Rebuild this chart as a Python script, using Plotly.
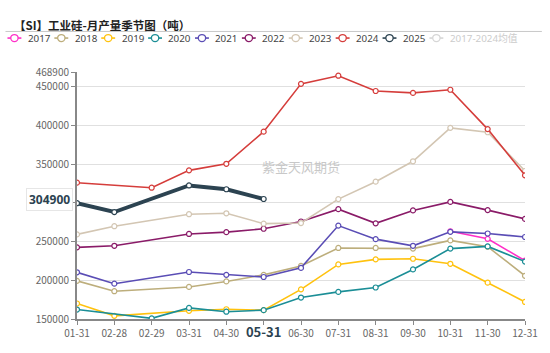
import plotly.graph_objects as go

categories = ["01-31", "02-28", "02-29", "03-31", "04-30", "05-31", "06-30",
              "07-31", "08-31", "09-30", "10-31", "11-30", "12-31"]
N = None
y2017 = [N, N, N, N, N, N, N, N, N, N, 263300, 253500, 225400]
y2018 = [199300, 185900, N, 191400, 198500, 207000, 218500, 241700, 241700, 240900, 251500, 243300, 205800]
y2019 = [170000, 154100, N, 160600, 162600, 161400, 188300, 220500, 227000, 227800, 221300, 196900, 172000]
y2020 = [162200, N, 150800, 164300, 159400, 161400, 177700, 185000, 190700, 214000, 240900, 243700, 224200]
y2021 = [210300, 195600, N, 210700, 207000, 204200, 216000, 270600, 253100, 244500, 262500, 260400, 255900]
y2022 = [242500, 244500, N, 259800, 262100, 266500, 275900, 291800, 273500, 290200, 301200, 290600, 279200]
y2023 = [259200, 269800, N, 285300, 286500, 273100, 273900, 304800, 327300, 353600, 396800, 391100, 341100]
y2024 = [326000, N, 319500, 341900, 350400, 391900, 453600, 464100, 444400, 441900, 446000, 395200, 335500]
y2025 = [299500, 288100, N, 322400, 317500, 304900, N, N, N, N, N, N, N]
y_avg = [N] * 13  # hidden series (legend only), values not readable

series = [
    ("2017", y2017, "#ff2fc8", 1.6, True),
    ("2018", y2018, "#bdae7c", 1.6, True),
    ("2019", y2019, "#ffc20e", 1.6, True),
    ("2020", y2020, "#1b8e96", 1.6, True),
    ("2021", y2021, "#5a4db5", 1.6, True),
    ("2022", y2022, "#8a1b68", 1.6, True),
    ("2023", y2023, "#d3c6b3", 1.6, True),
    ("2024", y2024, "#d53d3b", 1.6, True),
    ("2025", y2025, "#2c4351", 4, True),
    ("2017-2024均值", y_avg, "#d6d6d6", 1.6, False),
]

fig = go.Figure()
for name, ys, color, w, vis in series:
    fig.add_trace(go.Scatter(
        x=categories, y=ys, name=name, mode="lines+markers",
        connectgaps=True, visible=True if vis else "legendonly",
        line=dict(color=color, width=w),
        marker=dict(symbol="circle", size=5, color="white",
                    line=dict(color=color, width=1.2)),
        showlegend=False,
    ))

ytick_vals = [150000, 200000, 250000, 300000, 350000, 400000, 450000, 468900]
tick_text = [c if c != "05-31" else "<b><span style='font-size:13px;color:#2c4351'>05-31</span></b>"
             for c in categories]

W, H = 550, 353
L, R, T, B = 77, 22, 72, 19
pw, ph = W - L - R, H - T - B

def px_x(p):
    return (p - L) / pw

def px_y(p):
    return (H - B - p) / ph

fig.update_layout(
    width=W, height=H,
    margin=dict(l=L, r=R, t=T, b=B),
    paper_bgcolor="white", plot_bgcolor="white",
    font=dict(family="Noto Sans CJK SC, Noto Sans, sans-serif", color="#666", size=10),
    showlegend=False,
    xaxis=dict(
        type="category", categoryorder="array", categoryarray=categories,
        tickmode="array", tickvals=categories, ticktext=tick_text,
        range=[0, len(categories) - 1],
        showgrid=False, showline=True, linecolor="#888", linewidth=2,
        ticks="outside", ticklen=4, tickcolor="#888",
        tickfont=dict(size=10, color="#666"),
        zeroline=False,
    ),
    yaxis=dict(
        range=[150000, 468900],
        tickmode="array", tickvals=ytick_vals,
        ticktext=[str(v) for v in ytick_vals],
        showgrid=True, gridcolor="#e0e0e0", gridwidth=1,
        showline=True, linecolor="#888", linewidth=2,
        ticks="outside", ticklen=4, tickcolor="#888",
        tickfont=dict(size=10, color="#666"),
        zeroline=False,
    ),
)

# title and separator
fig.add_annotation(
    text="<b>【SI】工业硅-月产量季节图（吨）</b>", xref="paper", yref="paper",
    x=px_x(12), y=px_y(22), xanchor="left", yanchor="middle", showarrow=False,
    font=dict(size=11.5, color="#222", family="Noto Sans CJK SC"),
)
fig.add_shape(type="line", xref="paper", yref="paper",
              x0=px_x(5), x1=px_x(545), y0=px_y(29), y1=px_y(29),
              line=dict(color="#c8c8c8", width=1))

# legend row (one entry per series)
step, start, ly = 47.2, 7, 36
for i, (name, ys, color, w, vis) in enumerate(series):
    x0 = start + step * i
    fig.add_shape(type="line", xref="paper", yref="paper",
                  x0=px_x(x0), x1=px_x(x0 + 14), y0=px_y(ly), y1=px_y(ly),
                  line=dict(color=color, width=1.6))
    fig.add_shape(type="circle", xref="paper", yref="paper",
                  x0=px_x(x0 + 3.3), x1=px_x(x0 + 10.7),
                  y0=px_y(ly + 3.7), y1=px_y(ly - 3.7),
                  fillcolor="white", line=dict(color=color, width=1.3))
    fig.add_annotation(
        text=name, xref="paper", yref="paper",
        x=px_x(x0 + 19.5), y=px_y(ly), xanchor="left", yanchor="middle",
        showarrow=False, borderpad=0,
        font=dict(size=9.8, color="#444" if vis else "#cccccc",
                  family="Noto Sans, Noto Sans CJK SC"),
    )

fig.add_annotation(
    text="紫金天风期货", xref="paper", yref="paper",
    x=px_x(303), y=px_y(172), showarrow=False,
    font=dict(size=13, color="#c8c8c8", family="Noto Sans CJK SC"),
)
fig.add_annotation(
    text="<b>304900</b>", xref="paper", yref="y",
    x=px_x(73), y=304900, xanchor="right", yanchor="middle", showarrow=False,
    font=dict(size=12, color="#2c4351", family="Noto Sans"),
    bgcolor="white", bordercolor="#e6e6e6", borderwidth=1, borderpad=2,
)

fig.write_html("out.html")
